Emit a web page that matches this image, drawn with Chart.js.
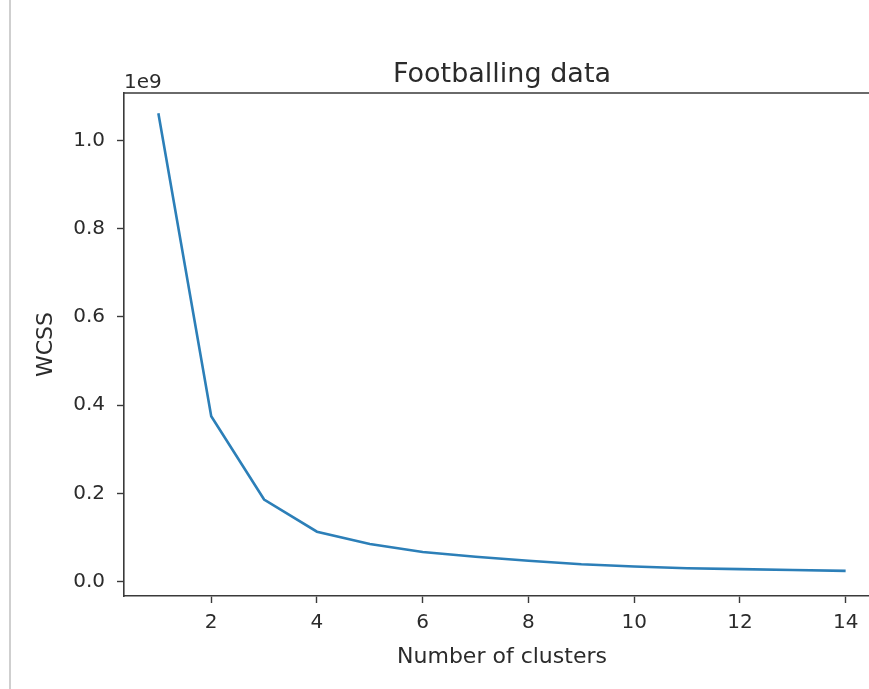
<!DOCTYPE html>
<html>
<head>
<meta charset="utf-8">
<script src="https://cdn.jsdelivr.net/npm/chart.js@4"></script>
<style>
  html, body { margin: 0; padding: 0; background: #fff; overflow: hidden; }
  #wrap { position: relative; width: 869px; height: 689px; overflow: hidden; }
  #edge { position: absolute; left: 9px; top: 0; width: 2px; height: 689px; background: #cfcfcf; }
  #plot { position: absolute; left: 0; top: 0; }
</style>
</head>
<body>
<div id="wrap">
  <div id="edge"></div>
  <canvas id="plot" width="880" height="689"></canvas>
</div>
<script>
// Elbow curve: within-cluster sum of squares per cluster count
const clusters = [1, 2, 3, 4, 5, 6, 7, 8, 9, 10, 11, 12, 13, 14];
const wcss = [1.062e9, 0.375e9, 0.186e9, 0.113e9, 0.085e9, 0.067e9, 0.056e9,
              0.047e9, 0.039e9, 0.034e9, 0.030e9, 0.028e9, 0.026e9, 0.024e9];
const xTicks = [2, 4, 6, 8, 10, 12, 14];
const yTicks = [0, 0.2e9, 0.4e9, 0.6e9, 0.8e9, 1.0e9];

const FONT = "'DejaVu Sans', sans-serif";
const INK = '#2b2b2b';
const AXIS = '#3a3a3a';

// frame line across the top, plus title and the exponent label
const decor = {
  id: 'decor',
  afterDraw(chart) {
    const { ctx, chartArea: a } = chart;
    ctx.save();
    ctx.strokeStyle = AXIS;
    ctx.lineWidth = 1.6;
    ctx.beginPath();
    ctx.moveTo(a.left, a.top);
    ctx.lineTo(a.right, a.top);
    ctx.lineTo(a.right, a.bottom);
    ctx.stroke();

    ctx.fillStyle = INK;
    ctx.font = "27px " + FONT;
    ctx.textAlign = 'center';
    ctx.textBaseline = 'alphabetic';
    ctx.fillText('Footballing data', (a.left + a.right) / 2, a.top - 11);

    ctx.font = "20px " + FONT;
    ctx.textAlign = 'left';
    ctx.fillText('1e9', a.left, a.top - 5);
    ctx.restore();
  }
};

new Chart(document.getElementById('plot'), {
  type: 'line',
  data: {
    datasets: [{
      data: clusters.map((c, i) => ({ x: c, y: wcss[i] })),
      borderColor: '#2c7fb8',
      borderWidth: 2.6,
      pointRadius: 0,
      tension: 0,
      fill: false
    }]
  },
  options: {
    responsive: false,
    animation: false,
    devicePixelRatio: 1,
    layout: { padding: { top: 93, right: 0, left: 0, bottom: 0 } },
    plugins: { legend: { display: false }, tooltip: { enabled: false } },
    scales: {
      x: {
        type: 'linear',
        min: 0.35,
        max: 14.65,
        afterBuildTicks(s) { s.ticks = xTicks.map(v => ({ value: v })); },
        afterFit(s) { s.height = 93; },
        grid: { drawOnChartArea: false, drawTicks: true, tickLength: 7, tickColor: AXIS, tickWidth: 1.4 },
        border: { display: true, color: AXIS, width: 1.6 },
        ticks: { color: INK, font: { family: FONT, size: 20 }, padding: 8, maxRotation: 0,
                 callback: v => String(v) },
        title: { display: true, text: 'Number of clusters', color: INK,
                 font: { family: FONT, size: 22 }, padding: { top: 0, bottom: 19 } }
      },
      y: {
        type: 'linear',
        min: -0.0329e9,
        max: 1.108e9,
        afterBuildTicks(s) { s.ticks = yTicks.map(v => ({ value: v })); },
        afterFit(s) { s.width = 124; },
        grid: { drawOnChartArea: false, drawTicks: true, tickLength: 7, tickColor: AXIS, tickWidth: 1.4 },
        border: { display: true, color: AXIS, width: 1.6 },
        ticks: { color: INK, font: { family: FONT, size: 20 }, padding: 12,
                 callback: v => (v / 1e9).toFixed(1) },
        title: { display: true, text: 'WCSS', color: INK,
                 font: { family: FONT, size: 22 }, padding: { top: 33, bottom: 0 } }
      }
    }
  },
  plugins: [decor]
});
</script>
</body>
</html>
